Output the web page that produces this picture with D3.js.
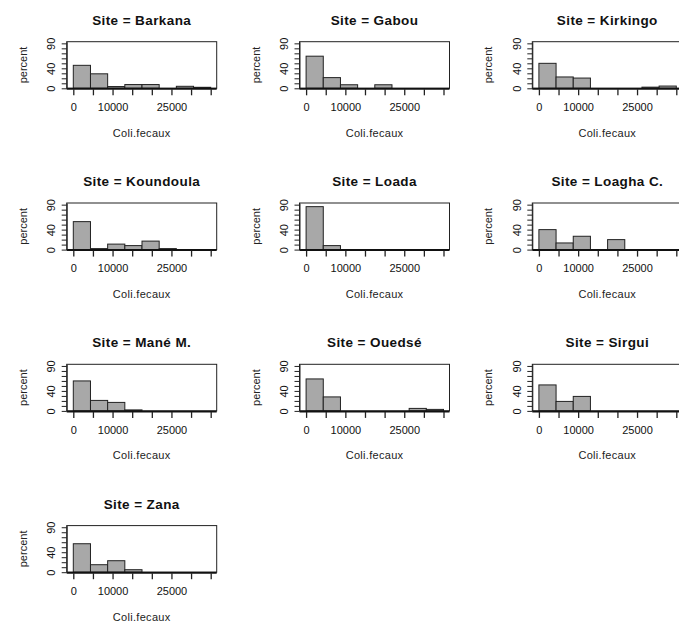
<!DOCTYPE html>
<html>
<head>
<meta charset="utf-8">
<script src="https://cdn.jsdelivr.net/npm/d3@7"></script>
<style>
  html, body { margin: 0; padding: 0; background: #fff; }
  svg { display: block; font-family: "Liberation Sans", Arial, sans-serif; }
</style>
</head>
<body>
<svg id="chart" width="679" height="624"></svg>
<script>
// ---- data ----
const sites = ["Barkana", "Gabou", "Kirkingo", "Koundoula", "Loada", "Loagha C.", "Mané M.", "Ouedsé", "Sirgui", "Zana"];
const binEdges = [0, 4375, 8750, 13125, 17500, 21875, 26250, 30625, 35000];
const pctBarkana   = [46, 29, 3.5, 7.5, 7.5, 0, 4, 2];
const pctGabou     = [64.3, 21.4, 7.1, 0, 7.1, 0, 0, 0];
const pctKirkingo  = [50, 22.7, 20.5, 0, 0, 0, 2.3, 4.5];
const pctKoundoula = [56, 2, 11, 8, 17, 2, 0, 0];
const pctLoada     = [86, 8, 0, 0, 0, 0, 0, 0];
const pctLoagha    = [40, 13.3, 26.7, 0, 20, 0, 0, 0];
const pctMane      = [60, 21, 17, 2, 0, 0, 0, 0];
const pctOuedse    = [64, 28, 0, 0, 0, 0, 5, 3];
const pctSirgui    = [52, 19, 29, 0, 0, 0, 0, 0];
const pctZana      = [57, 15, 23, 5, 0, 0, 0, 0];
const percents = [pctBarkana, pctGabou, pctKirkingo, pctKoundoula, pctLoada, pctLoagha, pctMane, pctOuedse, pctSirgui, pctZana];
const xTicks = [0, 5000, 10000, 15000, 20000, 25000, 30000, 35000];
const xLabels = [0, 10000, 25000];
const yTicks = [0, 10, 20, 30, 40, 50, 60, 70, 80, 90];
const yLabels = [0, 40, 90];

// ---- layout ----
const svg = d3.select("#chart");
const boxW = 150, boxH = 46.6;
const colLeft0 = 66.7, colStep = 232.8;
const rowAxis0 = 88.3, rowStep = 161.3;

sites.forEach((site, i) => {
  const c = i % 3, r = Math.floor(i / 3);
  const left = colLeft0 + c * colStep;
  const axisY = rowAxis0 + r * rowStep;
  const top = axisY - boxH;

  const x = d3.scaleLinear().domain([0, 35000]).range([left + 6.6, left + 144]);
  const y = d3.scaleLinear().domain([0, 93.3]).range([axisY, top]);

  const g = svg.append("g");

  // title
  g.append("text")
    .attr("x", left + boxW / 2).attr("y", axisY - 63.5)
    .attr("text-anchor", "middle")
    .attr("font-size", 13.5).attr("font-weight", "bold").attr("fill", "#111")
    .attr("letter-spacing", 0.4)
    .text("Site = " + site);

  // bars
  const vals = percents[i];
  g.selectAll("rect.bar").data(vals).enter().append("rect")
    .attr("class", "bar")
    .attr("x", (d, k) => x(binEdges[k]))
    .attr("width", (d, k) => x(binEdges[k + 1]) - x(binEdges[k]))
    .attr("y", d => y(d))
    .attr("height", d => y(0) - y(d))
    .attr("fill", "#a8a8a8")
    .attr("stroke", "#222")
    .attr("stroke-width", 1);

  // box
  g.append("rect")
    .attr("x", left).attr("y", top)
    .attr("width", boxW).attr("height", boxH)
    .attr("fill", "none").attr("stroke", "#222").attr("stroke-width", 1);
  g.append("line")
    .attr("x1", left).attr("x2", left + boxW)
    .attr("y1", axisY + 0.5).attr("y2", axisY + 0.5)
    .attr("stroke", "#111").attr("stroke-width", 2);

  // x axis
  const xa = g.append("g").attr("transform", `translate(0,${axisY + 1})`)
    .call(d3.axisBottom(x).tickValues(xTicks).tickSize(6).tickSizeOuter(0).tickPadding(8)
      .tickFormat(d => xLabels.includes(d) ? String(d) : ""));
  xa.select(".domain").remove();
  xa.selectAll("line").attr("stroke", "#222").attr("stroke-width", 1.3);
  xa.selectAll("text").attr("font-size", 11).attr("fill", "#111")
    .attr("font-family", "'Liberation Sans', Arial, sans-serif");

  // y axis
  const ya = g.append("g").attr("transform", `translate(${left},0)`)
    .call(d3.axisLeft(y).tickValues(yTicks).tickSize(5).tickSizeOuter(0)
      .tickFormat(d => yLabels.includes(d) ? String(d) : ""));
  ya.select(".domain").attr("stroke", "#222");
  ya.selectAll("line").attr("stroke", "#222");
  ya.selectAll("text")
    .attr("x", null).attr("dy", null)
    .attr("transform", "translate(-11.5,0) rotate(-90)")
    .attr("text-anchor", "middle")
    .attr("font-size", 11).attr("fill", "#111")
    .attr("font-family", "'Liberation Sans', Arial, sans-serif");

  // axis titles
  g.append("text")
    .attr("x", left + boxW / 2).attr("y", axisY + 48.5)
    .attr("text-anchor", "middle").attr("font-size", 11).attr("fill", "#222")
    .attr("letter-spacing", 0.3)
    .text("Coli.fecaux");
  g.append("text")
    .attr("transform", `translate(${left - 40},${axisY - boxH / 2}) rotate(-90)`)
    .attr("text-anchor", "middle").attr("font-size", 11).attr("fill", "#222")
    .text("percent");
});
</script>
</body>
</html>
